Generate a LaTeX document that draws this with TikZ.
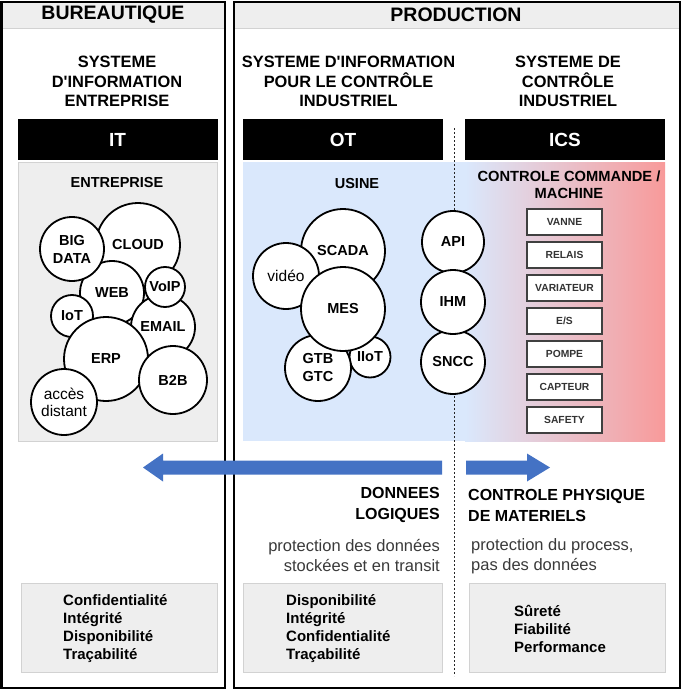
\documentclass[tikz,border=0pt]{standalone}
\usepackage{fontspec}
\setmainfont{Liberation Sans}
\definecolor{bandgrey}{HTML}{EEEEEE}
\definecolor{boxgrey}{HTML}{EEEEEE}
\definecolor{boxline}{HTML}{D2D2D2}
\definecolor{otblue}{HTML}{DAE8FC}
\definecolor{icsred}{HTML}{F89A9A}
\definecolor{arrowblue}{HTML}{4472C4}
\definecolor{txtgrey}{HTML}{3A3A3A}
\definecolor{txtdark}{HTML}{333333}
\tikzset{
 hdr/.style={font=\fontsize{19.5}{22}\selectfont\bfseries, inner sep=0},
 ttl/.style={font=\fontsize{16.4}{19.5}\selectfont\bfseries, align=center, inner sep=0},
 blackbar/.style={fill=black, text=white, font=\fontsize{19}{22}\selectfont\bfseries, minimum width=200, minimum height=41, inner sep=0},
 gbox/.style={fill=boxgrey, draw=boxline, line width=0.8, inner sep=0},
 subttl/.style={font=\fontsize{14.5}{17}\selectfont\bfseries, inner sep=0, align=center},
 circ/.style={circle, draw=black, fill=white, line width=1.8, inner sep=0, align=center, font=\fontsize{14.5}{18}\selectfont\bfseries},
 circr/.style={circ, font=\fontsize{15.5}{17}\selectfont},
 dev/.style={draw=black!75, line width=1.2, fill=white, minimum width=75, minimum height=26, inner sep=0, font=\fontsize{10.3}{12}\selectfont\bfseries, text=txtdark},
 bigtxt/.style={font=\fontsize{16}{21}\selectfont\bfseries, inner sep=0},
 prot/.style={font=\fontsize{16.5}{20}\selectfont, text=txtgrey, inner sep=0},
 listtxt/.style={font=\fontsize{15}{18}\selectfont\bfseries, align=left, inner sep=0, anchor=west},
 framebox/.style={draw=black, line width=2.5},
 dashline/.style={draw=black!85, line width=0.8, dash pattern=on 2pt off 2pt},
}
\begin{document}
\begin{tikzpicture}[x=1pt,y=-1pt]
\useasboundingbox (0,0) rectangle (682,690);
\fill[white] (0,0) rectangle (682,690);
% header bands
\fill[bandgrey] (1.3,2) rectangle (225,28);
\draw[boxline] (1.3,28) -- (225,28);
\fill[bandgrey] (234,2) rectangle (680,28);
\draw[boxline] (234,28) -- (680,28);
% frames
\draw[framebox] (1.3,2) rectangle (225,688);
\draw[framebox] (234,2) rectangle (680,688);
\node[hdr] (bur) at (113,14.5) {BUREAUTIQUE};
\node[hdr] (prod) at (456,14.5) {PRODUCTION};
% titles
\node[ttl] (t1) at (117,81.5) {SYSTEME\\D\textquotesingle INFORMATION\\ENTREPRISE};
\node[ttl] (t2) at (348.5,81.5) {SYSTEME D\textquotesingle INFORMATION\\POUR LE CONTRÔLE\\INDUSTRIEL};
\node[ttl] (t3) at (568,81.5) {SYSTEME DE\\CONTRÔLE\\INDUSTRIEL};
% black bars
\node[blackbar] (it) at (117.5,139.5) {IT};
\node[blackbar] (ot) at (343,139.5) {OT};
\node[blackbar] (ics) at (565,139.5) {ICS};
% backgrounds
\node[gbox, minimum width=199, minimum height=279] (entbox) at (117.5,301.5) {};
\fill[otblue] (243,162) rectangle (466,441);
\shade[left color=otblue, right color=icsred] (465,162) rectangle (665,441);
% dashed separator
\coordinate (dtop) at (454,128);
\coordinate (dbot) at (454,676);
\draw[dashline] (dtop) -- (dbot);
% sub titles
\node[subttl] (ent) at (117,183) {ENTREPRISE};
\node[subttl] (usine) at (357,183.5) {USINE};
\node[subttl, font=\fontsize{14.7}{17}\selectfont\bfseries] (ccm) at (569,184.5) {CONTROLE COMMANDE /\\MACHINE};
% left circles
\node[circ, minimum size=84] (cloud) at (138,245) {CLOUD};
\node[circ, minimum size=64] (web) at (112,293) {WEB};
\node[circ, minimum size=64] (bigdata) at (72,249) {BIG\\DATA};
\node[circ, minimum size=64] (email) at (163,327) {EMAIL};
\node[circ, minimum size=40] (voip) at (165,287) {VoIP};
\node[circ, minimum size=42] (iot) at (72,316) {IoT};
\node[circ, minimum size=84] (erp) at (106,359) {ERP};
\node[circ, minimum size=68] (b2b) at (173,380) {B2B};
\node[circr, minimum size=66] (acces) at (64,402) {accès\\distant};
% middle circles
\node[circ, minimum size=84] (scada) at (343,251) {SCADA};
\node[circr, minimum size=66] (video) at (286,276) {vidéo};
\node[circ, minimum size=41] (iiot) at (370,357) {IIoT};
\node[circ, minimum size=66] (gtb) at (318,368) {GTB\\GTC};
\node[circ, minimum size=84] (mes) at (343,309) {MES};
\node[circ, minimum size=62] (api) at (453,242) {API};
\node[circ, minimum size=64] (sncc) at (453,362) {SNCC};
\node[circ, minimum size=64] (ihm) at (453,302) {IHM};
% devices
\node[dev] (vanne) at (564.5,222) {VANNE};
\node[dev] (relais) at (564.5,255) {RELAIS};
\node[dev] (variat) at (564.5,288) {VARIATEUR};
\node[dev] (es) at (564.5,321) {E/S};
\node[dev] (pompe) at (564.5,354) {POMPE};
\node[dev] (capteur) at (564.5,387) {CAPTEUR};
\node[dev] (safety) at (564.5,420) {SAFETY};
% big arrows
\fill[arrowblue] (442,460.5) -- (163,460.5) -- (163,453.5) -- (143,467.5) -- (163,481.5) -- (163,474.5) -- (442,474.5) -- cycle;
\fill[arrowblue] (466,460.5) -- (527,460.5) -- (527,453.5) -- (550,467.5) -- (527,481.5) -- (527,474.5) -- (466,474.5) -- cycle;
% texts
\node[bigtxt, align=right, anchor=east] (donnees) at (440,505) {DONNEES\\LOGIQUES};
\node[bigtxt, align=left, anchor=west] (physique) at (468,505) {CONTROLE PHYSIQUE\\DE MATERIELS};
\node[prot, align=right, anchor=east] (prot1) at (440,555) {protection des données\\stockées et en transit};
\node[prot, align=left, anchor=west] (prot2) at (471,556.5) {protection du process,\\pas des données};
% bottom boxes
\node[gbox, minimum width=196, minimum height=89] (b1) at (119,627.5) {};
\node[gbox, minimum width=199, minimum height=89] (b2) at (342.5,627.5) {};
\node[gbox, minimum width=196, minimum height=89] (b3) at (567,627.5) {};
\node[listtxt] (l1) at (63,628.5) {Confidentialité\\Intégrité\\Disponibilité\\Traçabilité};
\node[listtxt] (l2) at (286,628.5) {Disponibilité\\Intégrité\\Confidentialité\\Traçabilité};
\node[listtxt] (l3) at (514,628.5) {Sûreté\\Fiabilité\\Performance};
\end{tikzpicture}
\end{document}
